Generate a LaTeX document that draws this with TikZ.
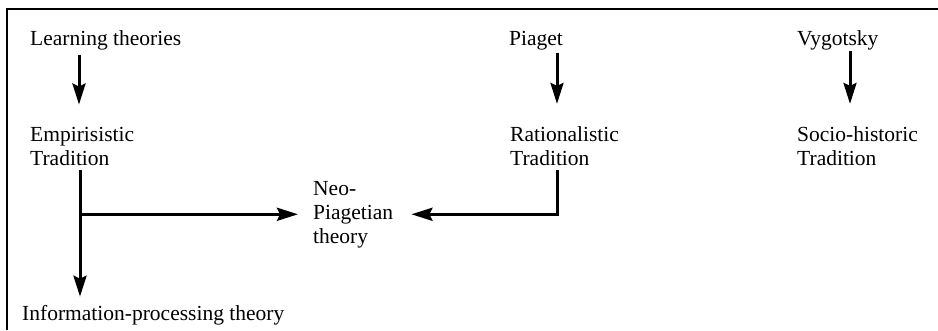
\documentclass[tikz,border=0pt]{standalone}
\usepackage{fontspec}
\setmainfont{Liberation Serif}
\usetikzlibrary{arrows.meta}
\begin{document}
\begin{tikzpicture}[x=1pt,y=-1pt,
  lbl/.style={inner sep=0pt, anchor=base west, align=left, font=\fontsize{21.5}{24}\selectfont},
  arr/.style={line width=3pt, -{Stealth[length=21pt,width=13pt,inset=3pt]}},
  frame/.style={line width=2.8pt}]
\useasboundingbox (0,0) rectangle (938,330);
\draw[frame] (7,330) -- (7,9) -- (938,9);
\node[lbl] (lt) at (30,45) {Learning theories};
\node[lbl] (pia) at (509,45) {Piaget};
\node[lbl] (vyg) at (797,45) {Vygotsky};
\node[lbl] (emp) at (30,165) {Empirisistic\\Tradition};
\node[lbl] (rat) at (510,165) {Rationalistic\\Tradition};
\node[lbl] (soc) at (797,165) {Socio-historic\\Tradition};
\node[lbl] (neo) at (313,243) {Neo-\\Piagetian\\theory};
\node[lbl] (info) at (22,320) {Information-processing theory};
% vertical arrows from sources to traditions
\draw[arr] ([xshift=49pt,yshift=-5pt]lt.south west) -- ([xshift=49pt,yshift=22pt]emp.north west);
\draw[arr] ([xshift=48pt,yshift=-3pt]pia.south west) -- ([xshift=47pt,yshift=22pt]rat.north west);
\draw[arr] ([xshift=53pt,yshift=-1pt]vyg.south west) -- ([xshift=53pt,yshift=22pt]soc.north west);
% empiristic branch
\coordinate (ej) at ([xshift=50pt,yshift=-5pt]emp.south west);
\draw[arr] (ej) -- ([xshift=58pt,yshift=8pt]info.north west);
\draw[arr] (ej |- neo.west) -- ([xshift=-15pt]neo.west);
% rationalistic branch
\coordinate (rj) at ([xshift=47pt,yshift=-5pt]rat.south west);
\draw[arr] (rj) |- ([xshift=18pt]neo.east);
\end{tikzpicture}
\end{document}
